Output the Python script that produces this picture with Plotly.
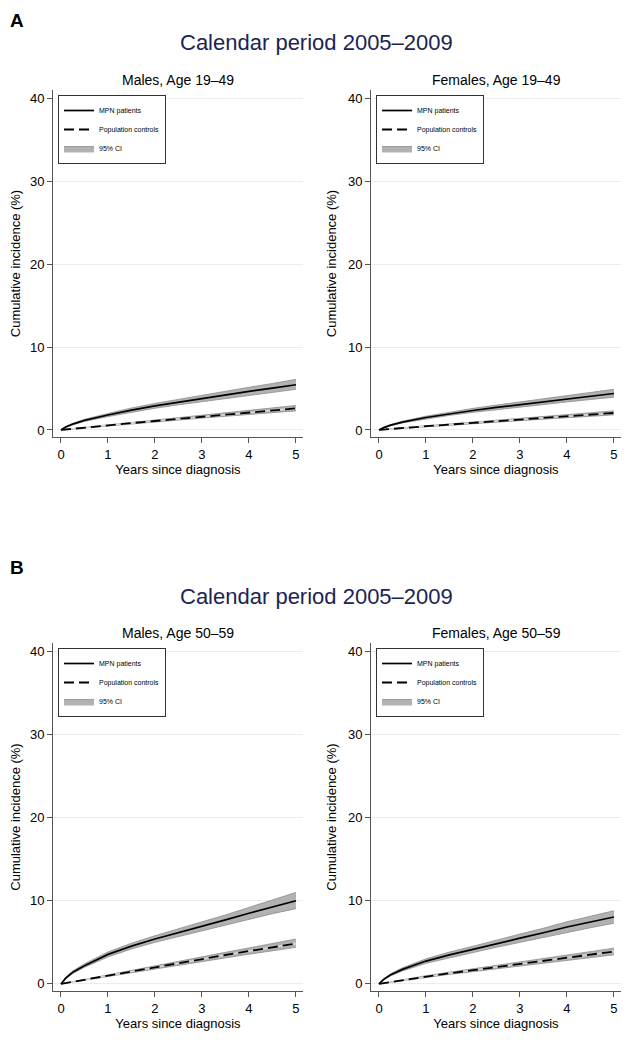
import plotly.graph_objects as go

# ---------------- data ----------------
years = [0, 0.1, 0.25, 0.5, 1, 1.5, 2, 2.5, 3, 3.5, 4, 4.5, 5]

m1949_mpn = [0, 0.35, 0.7, 1.15, 1.8, 2.4, 2.9, 3.35, 3.8, 4.25, 4.65, 5.05, 5.45]
m1949_mpn_lo = [0, 0.3, 0.62, 1.03, 1.62, 2.15, 2.62, 3.03, 3.42, 3.82, 4.18, 4.55, 4.9]
m1949_mpn_hi = [0, 0.4, 0.8, 1.28, 1.98, 2.65, 3.2, 3.7, 4.2, 4.68, 5.15, 5.6, 6.1]
m1949_ctl = [0, 0.06, 0.15, 0.3, 0.55, 0.82, 1.08, 1.34, 1.6, 1.85, 2.1, 2.35, 2.6]
m1949_ctl_lo = [0, 0.05, 0.13, 0.27, 0.5, 0.74, 0.97, 1.2, 1.43, 1.65, 1.87, 2.09, 2.3]
m1949_ctl_hi = [0, 0.07, 0.17, 0.33, 0.61, 0.9, 1.19, 1.48, 1.77, 2.05, 2.33, 2.62, 2.95]

f1949_mpn = [0, 0.28, 0.58, 0.95, 1.5, 1.95, 2.35, 2.72, 3.05, 3.4, 3.75, 4.08, 4.4]
f1949_mpn_lo = [0, 0.24, 0.51, 0.85, 1.35, 1.76, 2.12, 2.45, 2.76, 3.07, 3.38, 3.67, 3.95]
f1949_mpn_hi = [0, 0.32, 0.65, 1.06, 1.66, 2.15, 2.6, 3.0, 3.37, 3.76, 4.14, 4.52, 4.9]
f1949_ctl = [0, 0.05, 0.12, 0.24, 0.45, 0.65, 0.85, 1.05, 1.25, 1.45, 1.65, 1.85, 2.05]
f1949_ctl_lo = [0, 0.04, 0.1, 0.21, 0.4, 0.58, 0.76, 0.94, 1.12, 1.3, 1.48, 1.65, 1.82]
f1949_ctl_hi = [0, 0.06, 0.14, 0.27, 0.5, 0.72, 0.94, 1.16, 1.38, 1.6, 1.83, 2.06, 2.3]

m5059_mpn = [0, 0.7, 1.4, 2.2, 3.55, 4.55, 5.4, 6.15, 6.9, 7.7, 8.5, 9.25, 10.0]
m5059_mpn_lo = [0, 0.6, 1.25, 2.0, 3.25, 4.2, 5.0, 5.7, 6.4, 7.1, 7.8, 8.45, 9.05]
m5059_mpn_hi = [0, 0.8, 1.55, 2.42, 3.85, 4.9, 5.8, 6.62, 7.42, 8.3, 9.2, 10.1, 11.0]
m5059_ctl = [0, 0.1, 0.27, 0.53, 1.05, 1.52, 2.0, 2.5, 3.0, 3.48, 3.95, 4.4, 4.85]
m5059_ctl_lo = [0, 0.09, 0.24, 0.48, 0.95, 1.38, 1.82, 2.28, 2.73, 3.16, 3.58, 3.98, 4.4]
m5059_ctl_hi = [0, 0.11, 0.3, 0.58, 1.15, 1.66, 2.18, 2.72, 3.27, 3.8, 4.33, 4.85, 5.4]

f5059_mpn = [0, 0.55, 1.1, 1.75, 2.75, 3.5, 4.15, 4.85, 5.5, 6.15, 6.85, 7.45, 8.05]
f5059_mpn_lo = [0, 0.48, 0.97, 1.56, 2.48, 3.17, 3.77, 4.41, 5.0, 5.6, 6.22, 6.76, 7.3]
f5059_mpn_hi = [0, 0.62, 1.23, 1.94, 3.02, 3.83, 4.53, 5.29, 6.0, 6.7, 7.48, 8.14, 8.8]
f5059_ctl = [0, 0.09, 0.23, 0.46, 0.9, 1.28, 1.65, 2.03, 2.4, 2.78, 3.15, 3.52, 3.9]
f5059_ctl_lo = [0, 0.08, 0.2, 0.41, 0.81, 1.15, 1.48, 1.82, 2.15, 2.49, 2.82, 3.15, 3.5]
f5059_ctl_hi = [0, 0.1, 0.26, 0.51, 0.99, 1.41, 1.82, 2.24, 2.65, 3.07, 3.48, 3.9, 4.3]

panel_titles = ["Males, Age 19\u201349", "Females, Age 19\u201349",
                "Males, Age 50\u201359", "Females, Age 50\u201359"]
main_title = "Calendar period 2005\u20132009"
legend_names = ["MPN patients", "Population controls", "95% CI"]
y_ticks = [0, 10, 20, 30, 40]
x_ticks = [0, 1, 2, 3, 4, 5]

panels = [
    (m1949_mpn, m1949_mpn_lo, m1949_mpn_hi, m1949_ctl, m1949_ctl_lo, m1949_ctl_hi),
    (f1949_mpn, f1949_mpn_lo, f1949_mpn_hi, f1949_ctl, f1949_ctl_lo, f1949_ctl_hi),
    (m5059_mpn, m5059_mpn_lo, m5059_mpn_hi, m5059_ctl, m5059_ctl_lo, m5059_ctl_hi),
    (f5059_mpn, f5059_mpn_lo, f5059_mpn_hi, f5059_ctl, f5059_ctl_lo, f5059_ctl_hi),
]

# ---------------- layout geometry ----------------
# page is 644x1046; the html body has an 8px margin, so the figure is 628x1030
PAGE_OFF = 8
W, H = 644 - 2 * PAGE_OFF, 1046 - 2 * PAGE_OFF
FONT = "Liberation Sans, Arial, Helvetica, sans-serif"
# positions measured on the page, converted to figure pixels below
x_px = [(53, 303), (371, 621), (53, 303), (371, 621)]
y_px = [(90, 437), (90, 437), (643, 991), (643, 991)]


def fx(px):
    return (px - PAGE_OFF) / W


def fy(py):
    return 1 - (py - PAGE_OFF) / H


BAND_FILL = "#b2b2b2"
BAND_EDGE = "#8c8c8c"

fig = go.Figure()
layout = dict(width=W, height=H, margin=dict(l=0, r=0, t=0, b=0),
              paper_bgcolor="white", plot_bgcolor="white", showlegend=True,
              font=dict(family=FONT, color="black"))
annotations = []

for i, (mpn, mlo, mhi, ctl, clo, chi) in enumerate(panels):
    n = i + 1
    xa = "x" if n == 1 else f"x{n}"
    ya = "y" if n == 1 else f"y{n}"
    lg = "legend" if n == 1 else f"legend{n}"
    # MPN CI band
    fig.add_trace(go.Scatter(x=years, y=mlo, mode="lines", xaxis=xa, yaxis=ya,
                             line=dict(color=BAND_EDGE, width=0.8), showlegend=False,
                             hoverinfo="skip", legend=lg))
    fig.add_trace(go.Scatter(x=years, y=mhi, mode="lines", xaxis=xa, yaxis=ya,
                             fill="tonexty", fillcolor=BAND_FILL,
                             line=dict(color=BAND_EDGE, width=0.8), name=legend_names[2],
                             showlegend=True, legend=lg, legendrank=3))
    # control CI band
    fig.add_trace(go.Scatter(x=years, y=clo, mode="lines", xaxis=xa, yaxis=ya,
                             line=dict(color=BAND_EDGE, width=0.8), showlegend=False,
                             hoverinfo="skip", legend=lg))
    fig.add_trace(go.Scatter(x=years, y=chi, mode="lines", xaxis=xa, yaxis=ya,
                             fill="tonexty", fillcolor=BAND_FILL,
                             line=dict(color=BAND_EDGE, width=0.8), showlegend=False,
                             legend=lg))
    # lines
    fig.add_trace(go.Scatter(x=years, y=mpn, mode="lines", xaxis=xa, yaxis=ya,
                             line=dict(color="black", width=1.7), name=legend_names[0],
                             legend=lg, legendrank=1))
    fig.add_trace(go.Scatter(x=years, y=ctl, mode="lines", xaxis=xa, yaxis=ya,
                             line=dict(color="#d8d8d8", width=1.6), showlegend=False,
                             hoverinfo="skip", legend=lg))
    fig.add_trace(go.Scatter(x=years, y=ctl, mode="lines", xaxis=xa, yaxis=ya,
                             line=dict(color="black", width=1.8, dash="10px,5px"),
                             name=legend_names[1], legend=lg, legendrank=2))

    x0, x1 = x_px[i]
    yt, yb = y_px[i]
    axis_common = dict(showline=True, linecolor="#555555", linewidth=1,
                       ticks="outside", ticklen=5, tickcolor="#555555", tickwidth=1,
                       tickfont=dict(size=13, family=FONT, color="black"),
                       zeroline=False, fixedrange=True, automargin=False)
    layout["xaxis" if n == 1 else f"xaxis{n}"] = dict(
        domain=[fx(x0), fx(x1)], anchor=ya, range=[-0.17, 5.15],
        tickvals=x_ticks, showgrid=False,
        title=dict(text="Years since diagnosis", font=dict(size=13, family=FONT),
                   standoff=0), **axis_common)
    layout["yaxis" if n == 1 else f"yaxis{n}"] = dict(
        domain=[fy(yb), fy(yt)], anchor=xa, range=[-0.85, 41],
        tickvals=y_ticks, showgrid=True, gridcolor="#e6eeee", gridwidth=1,
        title=dict(text="Cumulative incidence (%)", font=dict(size=13, family=FONT),
                   standoff=8), **axis_common)
    layout[lg] = dict(x=fx(x0 + 5), y=fy(yt + 5), xanchor="left", yanchor="top",
                      bgcolor="white", bordercolor="#333333", borderwidth=1,
                      font=dict(size=7, family=FONT, color="black"),
                      traceorder="normal", tracegroupgap=0, itemwidth=30)
    annotations.append(dict(text=panel_titles[i], x=fx((x0 + x1) / 2),
                            y=fy(yt - 10), xref="paper", yref="paper",
                            xanchor="center", yanchor="middle",
                            showarrow=False, font=dict(size=14, family=FONT, color="black")))

for letter, ty, ly in [("A", 43, 8), ("B", 596, 555)]:
    annotations.append(dict(text=main_title, x=fx(316), y=fy(ty), xref="paper",
                            yref="paper", xanchor="center", yanchor="middle",
                            showarrow=False,
                            font=dict(size=22, family=FONT, color="#1b2452")))
    annotations.append(dict(text=f"<b>{letter}</b>", x=0.0, y=fy(ly), xref="paper",
                            yref="paper", xanchor="left", yanchor="top", showarrow=False,
                            font=dict(size=19, family=FONT, color="black")))

layout["annotations"] = annotations
fig.update_layout(**layout)
fig.write_html("out.html")
